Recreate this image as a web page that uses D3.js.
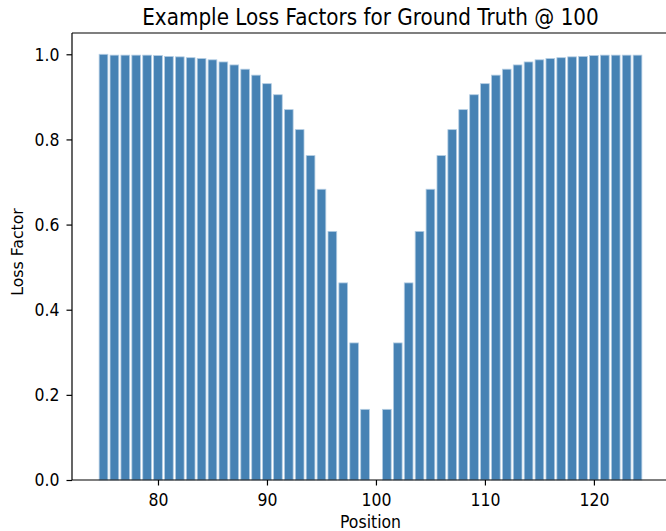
<!DOCTYPE html>
<html>
<head>
<meta charset="utf-8">
<script src="https://cdn.jsdelivr.net/npm/d3@7"></script>
<style>
  body { margin: 0; background: #fff; }
  svg { font-family: "DejaVu Sans", sans-serif; }
</style>
</head>
<body>
<svg id="chart" width="666" height="531"></svg>
<script>
// positions around the ground truth (100 has no bar)
var positions = [75, 76, 77, 78, 79, 80, 81, 82, 83, 84, 85, 86, 87, 88, 89, 90, 91, 92, 93, 94, 95, 96, 97, 98, 99,
                 100, 101, 102, 103, 104, 105, 106, 107, 108, 109, 110, 111, 112, 113, 114, 115, 116, 117, 118, 119, 120, 121, 122, 123, 124];
// loss factor
var lossFactor = [1.0, 0.998, 0.998, 0.998, 0.998, 0.997, 0.995, 0.994, 0.992, 0.990, 0.987, 0.982, 0.975, 0.965, 0.951, 0.931, 0.905, 0.870, 0.823, 0.762, 0.683, 0.584, 0.463, 0.322, 0.166,
                  0.0, 0.166, 0.322, 0.463, 0.584, 0.683, 0.762, 0.823, 0.870, 0.905, 0.931, 0.951, 0.965, 0.975, 0.982, 0.987, 0.990, 0.992, 0.994, 0.995, 0.997, 0.998, 0.998, 0.998, 0.998];
var xTicks = [80, 90, 100, 110, 120];
var yTicks = [0.0, 0.2, 0.4, 0.6, 0.8, 1.0];

var svg = d3.select("#chart");
// plot box (right spine falls just outside the window)
var mLeft = 72, mTop = 33, mBottom = 480, mRight = 669;
// text in the picture is a bit taller than wide
var stretch = 1.15;

var x = d3.scaleLinear().domain([72.11, 126.89]).range([mLeft, mRight]);
var y = d3.scaleLinear().domain([0, 1.05]).range([mBottom, mTop]);
var barW = 0.8;

svg.append("g")
	.selectAll("rect")
	.data(positions.map(function (p, i) { return { p: p, v: lossFactor[i] }; }).filter(function (d) { return d.v > 0; }))
	.enter().append("rect")
	.attr("x", function (d) { return x(d.p - barW / 2); })
	.attr("width", function (d) { return x(d.p + barW / 2) - x(d.p - barW / 2); })
	.attr("y", function (d) { return y(d.v); })
	.attr("height", function (d) { return y(0) - y(d.v); })
	.attr("fill", "#4682b4")
	.attr("stroke", "#b3cde3")
	.attr("stroke-width", 0.8);

// axes
var xAxis = svg.append("g")
	.attr("transform", "translate(0," + mBottom + ")")
	.call(d3.axisBottom(x).tickValues(xTicks).tickSize(5.5).tickPadding(5.5).tickFormat(d3.format("d")));
var yAxis = svg.append("g")
	.attr("transform", "translate(" + mLeft + ",0)")
	.call(d3.axisLeft(y).tickValues(yTicks).tickSize(5.5).tickPadding(7).tickFormat(d3.format(".1f")));

[xAxis, yAxis].forEach(function (g) {
	g.select(".domain").remove();
	g.selectAll("line").attr("stroke", "#000").attr("stroke-width", 1.2);
	g.selectAll("text").attr("font-size", "15.7px").attr("fill", "#000")
		.attr("font-family", "DejaVu Sans, sans-serif");
});
// x tick labels: baseline 25.7 below the axis
xAxis.selectAll("text").attr("y", 0).attr("dy", 0)
	.attr("transform", "translate(0,25.7) scale(1," + stretch + ")");
yAxis.selectAll("text").attr("transform", "scale(1," + stretch + ")");

// spines
svg.append("path")
	.attr("d", "M" + mLeft + "," + mTop + "V" + mBottom + "H" + mRight + "M" + mLeft + "," + mTop + "H" + mRight)
	.attr("fill", "none")
	.attr("stroke", "#000")
	.attr("stroke-width", 1.2);

svg.append("text")
	.attr("transform", "translate(" + (mLeft + mRight) / 2 + ",25) scale(1," + stretch + ")")
	.attr("text-anchor", "middle")
	.attr("font-size", "20px")
	.text("Example Loss Factors for Ground Truth @ 100");

svg.append("text")
	.attr("transform", "translate(" + (mLeft + mRight) / 2 + ",528) scale(1," + stretch + ")")
	.attr("text-anchor", "middle")
	.attr("font-size", "15.7px")
	.text("Position");

svg.append("text")
	.attr("transform", "translate(23,252) rotate(-90)")
	.attr("text-anchor", "middle")
	.attr("font-size", "15.7px")
	.text("Loss Factor");
</script>
</body>
</html>
